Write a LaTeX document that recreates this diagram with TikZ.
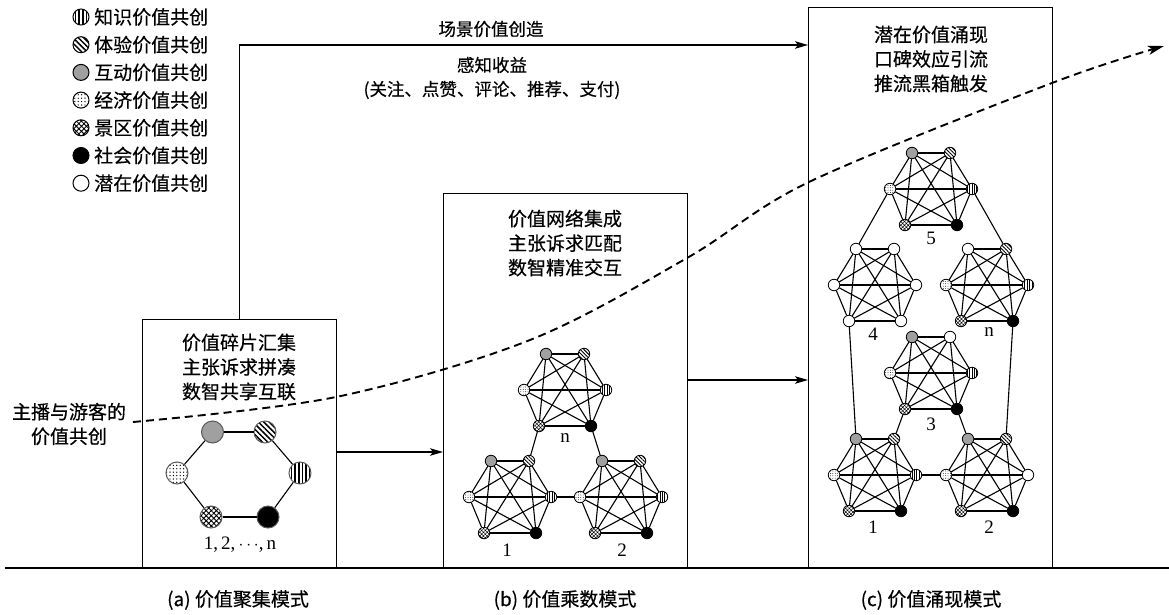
\documentclass[tikz,border=0pt]{standalone}
\usepackage{fontspec}
\setmainfont{Liberation Serif}
\newfontfamily\cjk[FakeBold=0.4]{Noto Sans CJK SC}
\usetikzlibrary{arrows.meta,patterns,patterns.meta,calc}
\definecolor{midgray}{RGB}{160,160,160}
\tikzset{
  sn/.style={circle,inner sep=0pt,minimum size=11.5pt,draw=black,line width=0.8pt},
  bn/.style={circle,inner sep=0pt,minimum size=22pt,draw=black!65,line width=1pt},
  ln/.style={circle,inner sep=0pt,minimum size=16pt,draw=black,line width=1pt},
  pk/.style={preaction={fill=white},pattern={Lines[angle=90,distance=2.4pt,line width=0.9pt]}},
  pt/.style={preaction={fill=white},pattern={Lines[angle=-45,distance=2.6pt,line width=0.9pt]}},
  ph/.style={fill=midgray},
  pj/.style={preaction={fill=white},pattern={Dots[distance=2.4pt,radius=0.45pt]}},
  pq/.style={preaction={fill=white},pattern={Hatch[angle=45,distance=2.6pt,line width=0.5pt]}},
  ps/.style={fill=black},
  pw/.style={fill=white},
  PK/.style={preaction={fill=white},pattern={Lines[angle=90,distance=3.6pt,line width=1.5pt]}},
  PT/.style={preaction={fill=white},pattern={Lines[angle=-45,distance=3.8pt,line width=1.5pt]}},
  PJ/.style={preaction={fill=white},pattern={Dots[distance=3.4pt,radius=0.7pt]}},
  PQ/.style={preaction={fill=white},pattern={Hatch[angle=45,distance=3.6pt,line width=0.9pt]}},
  edge/.style={line width=1.1pt},
  boxst/.style={draw,line width=1.3pt,anchor=north west,inner sep=0pt},
  txt/.style={font=\cjk\fontsize{19}{24.5}\selectfont,align=center,inner sep=0pt},
  toptxt/.style={font=\cjk\fontsize{17.5}{21}\selectfont,align=center,inner sep=0pt},
  lgtxt/.style={font=\cjk\fontsize{19}{22}\selectfont,anchor=west,inner sep=0pt},
  numlab/.style={font=\fontsize{19}{20}\selectfont,inner sep=0pt},
  captxt/.style={font=\cjk\fontsize{19}{22}\selectfont,inner sep=0pt},
  arr/.style={line width=1.3pt,-{Stealth[length=13pt,width=7.5pt,inset=3pt]}},
}
\newcommand\hexnet[9]{%
  \foreach \i/\dx/\dy/\tp in {1/-19/-36/#4,2/19/-36/#5,3/41/0/#6,4/26/36/#7,5/-26/36/#8,6/-41/0/#9}
    {\node[sn,\tp] (#1-\i) at (#2+\dx,#3+\dy) {};}
  \foreach \i in {1,...,5}{%
    \pgfmathtruncatemacro\js{\i+1}%
    \foreach \j in {\js,...,6}{\draw[edge] (#1-\i) -- (#1-\j);}}%
}
\begin{document}
\begin{tikzpicture}[x=1pt,y=-1pt]
\useasboundingbox (0,0) rectangle (1169,615);
% legend
\foreach \n/\tp/\tx [count=\c from 0] in {la/PK/知识价值共创,lb/PT/体验价值共创,lc/ph/互动价值共创,ld/PJ/经济价值共创,le/PQ/景区价值共创,lf/ps/社会价值共创,lg/pw/潜在价值共创}{
  \node[ln,\tp] (\n) at (81,17+27.7*\c) {};
  \node[lgtxt] (\n-t) at (94,17+27.7*\c) {\tx};
}
% boxes
\node[boxst,minimum width=194pt,minimum height=249pt] (boxa) at (142,319) {};
\node[boxst,minimum width=244pt,minimum height=375pt] (boxb) at (443,193) {};
\node[boxst,minimum width=244pt,minimum height=561pt] (boxc) at (808,7) {};
% baseline
\coordinate (bl0) at (5,568);
\coordinate (bl1) at (1169,568);
\draw[line width=1.8pt] (bl0) -- (bl1);
% box texts
\node[txt] (ta) at (239,367) {价值碎片汇集\\主张诉求拼凑\\数智共享互联};
\node[txt] (tb) at (565,243) {价值网络集成\\主张诉求匹配\\数智精准交互};
\node[txt] (tc) at (931,59) {潜在价值涌现\\口碑效应引流\\推流黑箱触发};
\node[txt] (tl) at (69,424) {主播与游客的\\价值共创};
% top labels
\node[toptxt] (s1) at (491,29) {场景价值创造};
\node[toptxt] (s2) at (492,65) {感知收益};
\node[toptxt] (s3) at (492,90) {(关注、点赞、评论、推荐、支付)};
% arrows
\draw[arr] (boxa.north) |- (boxc.west |- 0,45);
\draw[arr] (boxa.east |- 0,452) -- (boxb.west |- 0,452);
\draw[arr] (boxb.east |- 0,380) -- (boxc.west |- 0,380);
% panel a hexagon
\foreach \i/\x/\y/\tp in {1/212.5/432/ph,2/265/432/PT,3/300/473/PK,4/268/517/ps,5/211/517/PQ,6/177/473/PJ}
  {\node[bn,\tp] (A-\i) at (\x,\y) {};}
\foreach \i/\j in {1/2,2/3,3/4,4/5,5/6,6/1} {\draw[edge] (A-\i) -- (A-\j);}
\node[numlab] (Alab) at (240,545) {1,\,2,\,$\cdots$,\,n};
% panel b
\hexnet{Bn}{565}{390}{ph}{pt}{pk}{ps}{pq}{pj}
\hexnet{Bo}{510}{497}{ph}{pt}{pk}{ps}{pq}{pj}
\hexnet{Bt}{621}{497}{ph}{pt}{pk}{ps}{pq}{pj}
\node[numlab] at (565,438) {n};
\node[numlab] at (507,550) {1};
\node[numlab] at (622,550) {2};
\draw[edge] (Bn-5) -- (Bo-2);
\draw[edge] (Bn-4) -- (Bt-1);
\draw[edge] (Bo-3) -- (Bt-6);
% panel c
\hexnet{C5}{931}{189}{ph}{pt}{pk}{ps}{pq}{pj}
\hexnet{C4}{875}{285}{pw}{pw}{pw}{pw}{pw}{pw}
\hexnet{Cn}{987}{285}{pw}{pt}{pk}{ps}{pq}{pj}
\hexnet{C3}{931}{373}{ph}{pw}{pk}{ps}{pq}{pj}
\hexnet{C1}{875}{475}{ph}{pt}{pk}{ps}{pq}{pj}
\hexnet{C2}{987}{475}{ph}{pt}{pw}{ps}{pq}{pj}
\node[numlab] at (931,238) {5};
\node[numlab] at (873,334) {4};
\node[numlab] at (989,332) {n};
\node[numlab] at (931,424) {3};
\node[numlab] at (873,527) {1};
\node[numlab] at (989,527) {2};
\draw[edge] (C5-6) -- (C4-1);
\draw[edge] (C5-3) -- (Cn-2);
\draw[edge] (C4-5) -- (C1-1);
\draw[edge] (Cn-4) -- (C2-2);
\draw[edge] (C3-5) -- (C1-2);
\draw[edge] (C3-4) -- (C2-1);
\draw[edge] (C1-3) -- (C2-6);
% dashed curve
\draw[line width=1.9pt,dash pattern=on 8pt off 5pt,-{Stealth[length=16pt,width=9pt,inset=4pt]}]
  plot[smooth,tension=0.55] coordinates {(133,422) (336,397) (530,340) (687,258) (809,182) (1052,83) (1164,46)};
% captions
\node[captxt] (ca) at (238,600) {(a)\ 价值聚集模式};
\node[captxt] (cb) at (565,600) {(b)\ 价值乘数模式};
\node[captxt] (cc) at (931,600) {(c)\ 价值涌现模式};
\end{tikzpicture}
\end{document}
